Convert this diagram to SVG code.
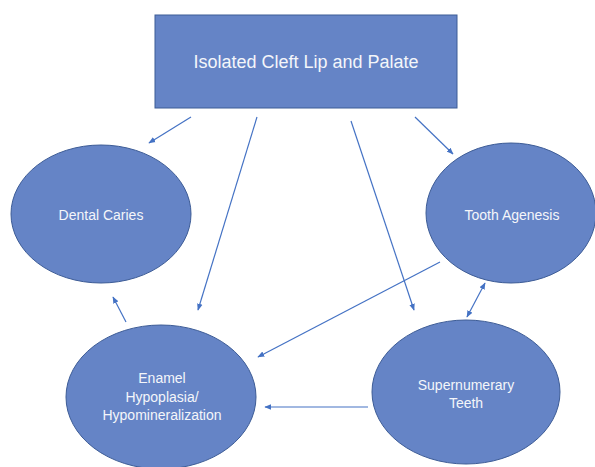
<svg xmlns="http://www.w3.org/2000/svg" width="595" height="467" viewBox="0 0 595 467">
<defs>
<marker id="ah" viewBox="0 0 10 10" refX="9" refY="5" markerWidth="7" markerHeight="7" orient="auto-start-reverse" markerUnits="userSpaceOnUse">
<path d="M0,1 L10,5 L0,9 z" fill="#4472C4"/>
</marker>
<style>
.n{fill:#6584C6;stroke:#3D5C96;stroke-width:1}
.t{fill:#F4F6FA;font-family:"Liberation Sans",Arial,sans-serif;font-size:14px;text-anchor:middle}
.tt{fill:#F4F6FA;font-family:"Liberation Sans",Arial,sans-serif;font-size:18px;text-anchor:middle}
.c{stroke:#4472C4;stroke-width:1.2;fill:none;marker-end:url(#ah)}
</style>
</defs>
<rect width="595" height="467" fill="#ffffff"/>
<g id="top">
<rect class="n" x="155" y="15" width="302" height="93" stroke="#c8d0e0"/>
<text class="tt" x="306" y="68">Isolated Cleft Lip and Palate</text>
</g>
<g id="caries">
<ellipse class="n" cx="101" cy="214" rx="90" ry="69"/>
<text class="t" x="101" y="220">Dental Caries</text>
</g>
<g id="agenesis">
<ellipse class="n" cx="511" cy="213" rx="85" ry="70"/>
<text class="t" x="512" y="220">Tooth Agenesis</text>
</g>
<g id="enamel">
<ellipse class="n" cx="161" cy="397" rx="95" ry="72"/>
<text class="t" x="162" y="383">Enamel</text>
<text class="t" x="162" y="402">Hypoplasia/</text>
<text class="t" x="162" y="420">Hypomineralization</text>
</g>
<g id="supernumerary">
<ellipse class="n" cx="466" cy="392" rx="94" ry="72"/>
<text class="t" x="466" y="390">Supernumerary</text>
<text class="t" x="466" y="408">Teeth</text>
</g>
<g id="connectors">
<line class="c" x1="191" y1="117" x2="149" y2="143"/>
<line class="c" x1="257" y1="117" x2="198" y2="310"/>
<line class="c" x1="351" y1="121" x2="414" y2="310"/>
<line class="c" x1="415" y1="117" x2="453" y2="154"/>
<line class="c" x1="440" y1="262" x2="258" y2="357"/>
<line class="c" x1="467" y1="317" x2="485" y2="283" marker-start="url(#ah)"/>
<line class="c" x1="368" y1="407" x2="265" y2="407"/>
<line class="c" x1="126" y1="322" x2="113" y2="297"/>
</g>
</svg>
